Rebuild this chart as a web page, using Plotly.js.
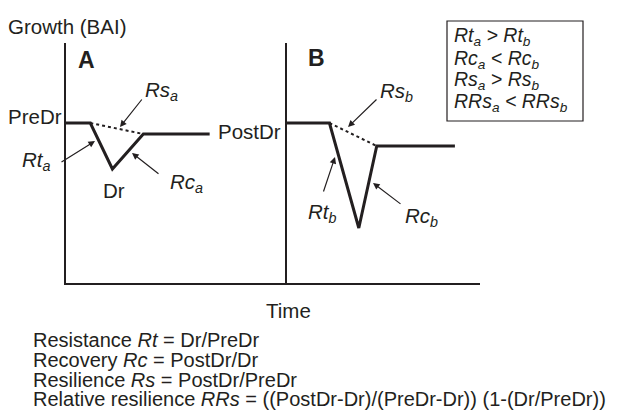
<!DOCTYPE html>
<html>
<head>
<meta charset="utf-8">
<script src="https://cdn.plot.ly/plotly-3.0.1.min.js"></script>
<style>html,body{margin:0;padding:0;background:#fff;}#chart{width:620px;height:414px;}</style>
</head>
<body>
<div id="chart"></div>
<script>
// Conceptual growth curves (time units, growth units)
var timeA = [0, 1.1, 2.1, 3.5, 6.5];
var growthA = [8, 8, 5.7, 7.45, 7.45];
var timeB = [0, 2.2, 3.72, 4.65, 8.7];
var growthB = [8, 8, 2.75, 6.85, 6.85];
var rsTimeA = [1.1, 3.5];
var rsGrowthA = [8, 7.45];
var rsTimeB = [2.2, 4.65];
var rsGrowthB = [8, 6.85];

var boxLines = [
  "<i>Rt<sub>a</sub> &gt; Rt<sub>b</sub></i>",
  "<i>Rc<sub>a</sub> &lt; Rc<sub>b</sub></i>",
  "<i>Rs<sub>a</sub> &gt; Rs<sub>b</sub></i>",
  "<i>RRs<sub>a</sub> &lt; RRs<sub>b</sub></i>"
];
var formulaLines = [
  "Resistance <i>Rt</i> = Dr/PreDr",
  "Recovery <i>Rc</i> = PostDr/Dr",
  "Resilience <i>Rs</i> = PostDr/PreDr",
  "Relative resilience <i>RRs</i> = ((PostDr-Dr)/(PreDr-Dr)) (1-(Dr/PreDr))"
];

var W = 620, H = 414;
var INK = '#231f20';
var FONT = 'Liberation Sans, Arial, Helvetica, sans-serif';
var FS = 20.5;
function px(x){ return x / W; }
function py(y){ return 1 - y / H; }

var traces = [
  {x: timeA, y: growthA, xaxis: 'x', yaxis: 'y', mode: 'lines', line: {color: INK, width: 3}, hoverinfo: 'skip'},
  {x: rsTimeA, y: rsGrowthA, xaxis: 'x', yaxis: 'y', mode: 'lines', line: {color: INK, width: 2, dash: 'dot'}, hoverinfo: 'skip'},
  {x: timeB, y: growthB, xaxis: 'x2', yaxis: 'y2', mode: 'lines', line: {color: INK, width: 3}, hoverinfo: 'skip'},
  {x: rsTimeB, y: rsGrowthB, xaxis: 'x2', yaxis: 'y2', mode: 'lines', line: {color: INK, width: 2, dash: 'dot'}, hoverinfo: 'skip'}
];

var axBase = {showline: true, linewidth: 2, linecolor: INK, showgrid: false, zeroline: false,
  showticklabels: false, ticks: '', fixedrange: true};
var yDom = [py(283), py(43)];

function label(text, x, y, opts) {
  var a = {text: text, x: px(x), y: py(y), xref: 'paper', yref: 'paper',
    xanchor: 'left', yanchor: 'middle', showarrow: false,
    font: {family: FONT, size: FS, color: INK}};
  if (opts) for (var k in opts) a[k] = opts[k];
  return a;
}
function arrow(tipX, tipY, tailX, tailY) {
  return {text: '', x: px(tipX), y: py(tipY), xref: 'paper', yref: 'paper',
    ax: tailX - tipX, ay: tailY - tipY, showarrow: true,
    arrowhead: 2, arrowsize: 1.1, arrowwidth: 1.2, arrowcolor: INK, standoff: 0};
}

var annotations = [
  label('Growth (BAI)', 6, 26),
  label('<b>A</b>', 76, 60, {font: {family: FONT, size: 23, color: INK}}),
  label('<b>B</b>', 306, 58, {font: {family: FONT, size: 23, color: INK}}),
  label('PreDr', 6, 117),
  label('PostDr', 216, 131),
  label('Dr', 101, 190),
  label('<i>Rs<sub>a</sub></i>', 143, 91),
  label('<i>Rt<sub>a</sub></i>', 20, 161),
  label('<i>Rc<sub>a</sub></i>', 168, 183),
  label('<i>Rs<sub>b</sub></i>', 378, 92),
  label('<i>Rt<sub>b</sub></i>', 306, 213),
  label('<i>Rc<sub>b</sub></i>', 403, 217),
  label('Time', 288, 310, {xanchor: 'center'}),
  arrow(120, 127, 143, 98),
  arrow(95, 141, 60, 163),
  arrow(132, 153, 160, 175),
  arrow(348, 127, 378, 98),
  arrow(335, 157, 323, 193),
  arrow(373, 183, 402, 205)
];
var boxY = [37, 59.5, 81, 102.5];
boxLines.forEach(function(t, i){
  annotations.push(label(t, 452, boxY[i], {font: {family: FONT, size: 19.5, color: INK}}));
});
var formY = [340, 360, 379.5, 399];
formulaLines.forEach(function(t, i){
  annotations.push(label(t, 31, formY[i], {font: {family: FONT, size: 20, color: INK}}));
});

var layout = {
  width: W, height: H,
  margin: {l: 0, r: 0, t: 0, b: 0},
  paper_bgcolor: '#fff', plot_bgcolor: 'rgba(0,0,0,0)',
  showlegend: false,
  xaxis: Object.assign({}, axBase, {domain: [px(66), px(287)], range: [0, 10], anchor: 'y'}),
  yaxis: Object.assign({}, axBase, {domain: yDom, range: [0, 12], anchor: 'x'}),
  xaxis2: Object.assign({}, axBase, {domain: [px(287), px(480)], range: [0, 10], anchor: 'y2'}),
  yaxis2: Object.assign({}, axBase, {domain: yDom, range: [0, 12], anchor: 'x2'}),
  shapes: [
    {type: 'rect', xref: 'paper', yref: 'paper', x0: px(447), x1: px(583), y0: py(121), y1: py(21),
     line: {color: INK, width: 1.2}, fillcolor: 'rgba(0,0,0,0)'}
  ],
  annotations: annotations
};

Plotly.newPlot('chart', traces, layout, {displayModeBar: false, staticPlot: true});
</script>
</body>
</html>
